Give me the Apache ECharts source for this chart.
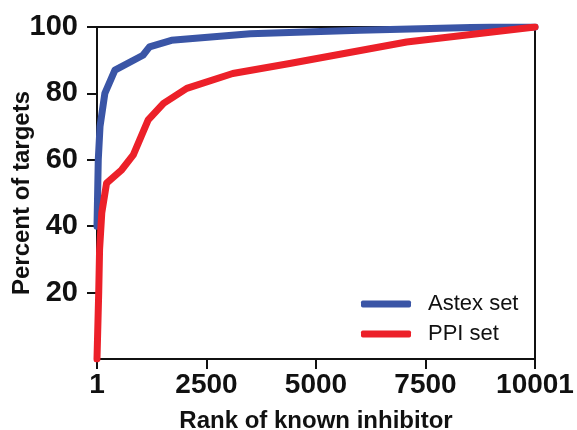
<!DOCTYPE html>
<html>
<head>
<meta charset="utf-8">
<script src="https://cdn.jsdelivr.net/npm/echarts@6/dist/echarts.min.js"></script>
<style>
html,body{margin:0;padding:0;background:#fff;}
#c{width:577px;height:430px;}
</style>
</head>
<body>
<div id="c"></div>
<script>
var xTicks = [1, 2500, 5000, 7500, 10001];
var yTicks = [20, 40, 60, 80, 100];
var seriesNames = ['Astex set', 'PPI set'];
var astexRank = [1, 30, 70, 180, 410, 1050, 1200, 1700, 3500, 6000, 9000, 10001];
var astexPct  = [40, 60, 70, 80, 87, 91.5, 94, 96, 98, 99, 100, 100];
var ppiRank = [1, 40, 60, 110, 220, 565, 830, 1170, 1520, 2050, 3100, 4400, 7070, 10001];
var ppiPct  = [0, 20, 33, 44, 53, 57, 61.5, 72, 77, 81.5, 86, 89, 95.5, 100];

function pairs(xs, ys){ return xs.map(function(x,i){ return [x, ys[i]]; }); }

var chart = echarts.init(document.getElementById('c'), null, {renderer:'canvas'});
var font = 'Liberation Sans, Arial, Helvetica, sans-serif';
chart.setOption({
  animation:false,
  backgroundColor:'#fff',
  grid:{left:97, right:42, top:27, bottom:71, show:true, borderColor:'#111', borderWidth:2,
        containLabel:false, outerBoundsMode:'none'},
  legend:{
    orient:'vertical', left:356, top:288, itemWidth:50, itemHeight:7, itemGap:8,
    icon:'roundRect',
    textStyle:{fontFamily:font, fontSize:22, color:'#111', padding:[0,0,0,12]},
    data:seriesNames
  },
  xAxis:{
    type:'value', min:1, max:10001,
    name:'Rank of known inhibitor', nameLocation:'middle', nameGap:50, nameMoveOverlap:false,
    nameTextStyle:{fontFamily:font, fontSize:24, fontWeight:'bold', color:'#111'},
    axisLine:{show:true, lineStyle:{color:'#111', width:2}},
    axisTick:{show:true, length:10, lineStyle:{color:'#111', width:2}, customValues:xTicks},
    axisLabel:{fontFamily:font, fontSize:28, fontWeight:'bold', color:'#111', margin:12, customValues:xTicks,
      formatter:function(v){ return String(v); }},
    splitLine:{show:false}
  },
  yAxis:{
    type:'value', min:0, max:100, interval:20,
    name:'Percent of targets', nameLocation:'middle', nameGap:63, nameMoveOverlap:false,
    nameTextStyle:{fontFamily:font, fontSize:24, fontWeight:'bold', color:'#111'},
    axisLine:{show:true, lineStyle:{color:'#111', width:2}},
    axisTick:{show:true, length:10, lineStyle:{color:'#111', width:2}, customValues:yTicks},
    axisLabel:{fontFamily:font, fontSize:29, fontWeight:'bold', color:'#111', margin:19, customValues:yTicks},
    splitLine:{show:false}
  },
  series:[
    {name:seriesNames[0], type:'line', data:pairs(astexRank, astexPct), showSymbol:false, symbol:'none',
     lineStyle:{color:'#3a55a6', width:7, join:'round', cap:'round'}, itemStyle:{color:'#3a55a6'}},
    {name:seriesNames[1], type:'line', data:pairs(ppiRank, ppiPct), showSymbol:false, symbol:'none',
     lineStyle:{color:'#ec2029', width:7, join:'round', cap:'round'}, itemStyle:{color:'#ec2029'}}
  ]
});
</script>
</body>
</html>
